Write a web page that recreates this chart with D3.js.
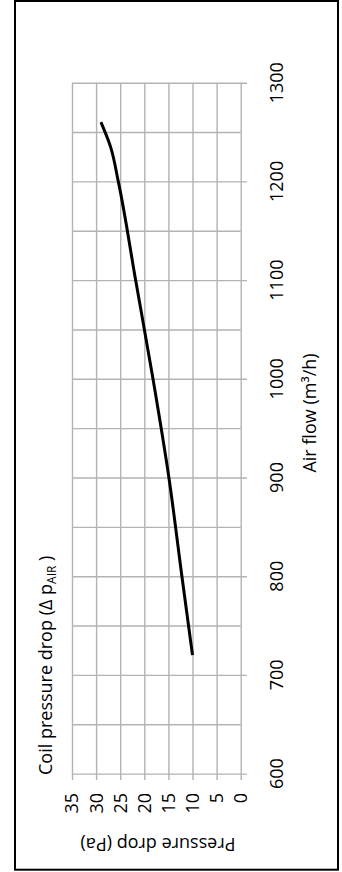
<!DOCTYPE html>
<html>
<head>
<meta charset="utf-8">
<script src="https://cdn.jsdelivr.net/npm/d3@7"></script>
<style>
  html, body { margin: 0; padding: 0; background: #fff; }
  svg { display: block; }
  text { font-family: "Open Sans", "Noto Sans", sans-serif; fill: #000; }
</style>
</head>
<body>
<svg id="chart" width="342" height="872"></svg>
<script>
// ---- data ----
const pressureTicks = [0, 5, 10, 15, 20, 25, 30, 35];
const airflowMajor = [600, 700, 800, 900, 1000, 1100, 1200, 1300];
const airflowMinor = [650, 750, 850, 950, 1050, 1150, 1250];
const airflow = [720, 800, 900, 1000, 1100, 1200, 1235, 1260];
const pressure = [10, 12.2, 14.9, 18.2, 21.8, 25.4, 27.0, 29.0];
const titleMain = "Coil pressure drop (Δ p";
const titleSub = "AIR";
const xTitle = "Air flow (m³/h)";
const yTitle = "Pressure drop (Pa)";

const svg = d3.select("#chart");
const grid = "#b3b3b3";

// scales (chart rotated 90° counter-clockwise)
const xP = d3.scaleLinear().domain([0, 35]).range([240.7, 72]);
const yQ = d3.scaleLinear().domain([600, 1300]).range([773.6, 82.7]);

// outer border
svg.append("rect")
  .attr("x", 15).attr("y", 1).attr("width", 323).attr("height", 868.7)
  .attr("fill", "#fff").attr("stroke", "#000").attr("stroke-width", 2);

// vertical gridlines (pressure) with tick extension
const gP = svg.append("g").attr("transform", "translate(0,780)")
  .call(d3.axisBottom(xP).tickValues(pressureTicks).tickSize(-(780 - 82.7)).tickFormat(""));
gP.select(".domain").remove();
gP.selectAll("line").attr("stroke", grid).attr("stroke-width", 1.4);

// minor horizontal gridlines
const gMin = svg.append("g").attr("transform", "translate(240.7,0)")
  .call(d3.axisLeft(yQ).tickValues(airflowMinor).tickSize(240.7 - 72).tickFormat(""));
gMin.select(".domain").remove();
gMin.selectAll("line").attr("stroke", grid).attr("stroke-width", 1.4);

// major horizontal gridlines with tick extension
const gMaj = svg.append("g").attr("transform", "translate(247,0)")
  .call(d3.axisLeft(yQ).tickValues(airflowMajor).tickSize(247 - 72).tickFormat(""));
gMaj.select(".domain").remove();
gMaj.selectAll("line").attr("stroke", grid).attr("stroke-width", 1.4);

// curve
const pts = airflow.map((q, i) => [xP(pressure[i]), yQ(q)]);
svg.append("path")
  .attr("d", d3.line().curve(d3.curveMonotoneY)(pts))
  .attr("fill", "none").attr("stroke", "#000").attr("stroke-width", 3);

// airflow tick labels
svg.append("g").selectAll("text").data(airflowMajor).join("text")
  .attr("transform", d => `translate(283,${yQ(d)}) rotate(-90)`)
  .attr("text-anchor", "middle")
  .attr("font-size", 18)
  .text(d => d);

// pressure tick labels
svg.append("g").selectAll("text").data(pressureTicks).join("text")
  .attr("transform", d => `translate(${xP(d)},793) rotate(-90)`)
  .attr("text-anchor", "end")
  .attr("dy", "0.36em")
  .attr("font-size", 18)
  .text(d => d);

// x axis title (air flow)
svg.append("text")
  .attr("transform", "translate(316,413) rotate(-90)")
  .attr("text-anchor", "middle")
  .attr("font-size", 18)
  .text(xTitle);

// y axis title (upside down)
svg.append("text")
  .attr("transform", "translate(158,838) rotate(180)")
  .attr("text-anchor", "middle")
  .attr("font-size", 18)
  .text(yTitle);

// chart title
const t = svg.append("text")
  .attr("transform", "translate(51.5,775) rotate(-90)")
  .attr("text-anchor", "start")
  .attr("font-size", 18);
t.append("tspan").text(titleMain);
t.append("tspan").attr("font-size", 12).attr("dy", 4).text(titleSub);
t.append("tspan").attr("dy", -4).text(" )");
</script>
</body>
</html>
